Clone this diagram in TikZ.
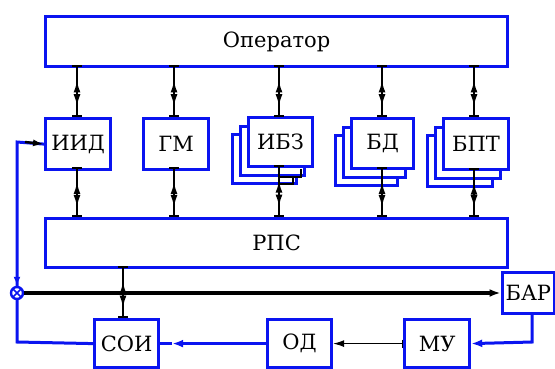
\documentclass[tikz,border=0pt]{standalone}
\usepackage{fontspec}
\setmainfont{DejaVu Serif}
\newfontfamily\tnr{DejaVu Serif}
\usetikzlibrary{arrows.meta,decorations.markings}
\definecolor{bl}{RGB}{10,20,240}
\tikzset{
  blk/.style={draw=bl,line width=3.2pt,fill=white,inner sep=0pt,font=\tnr\fontsize{21}{24}\selectfont},
  biarr/.style={black,line width=2pt,{Bar[width=10pt]}-{Bar[width=10pt]},
    postaction={decorate,decoration={markings,
      mark=at position 0.3 with {\arrowreversed{Latex[length=12pt,width=7pt]}},
      mark=at position 0.8 with {\arrow{Latex[length=12pt,width=7pt]}}}}},
  bline/.style={draw=bl,line width=3pt},
  kline/.style={black,line width=2pt}
}
\newcommand{\mybox}[6]{% name, x1,y1,x2,y2,label
  \node[blk,minimum width=#4pt-#2pt,minimum height=#5pt-#3pt,anchor=north west] (#1) at (#2,#3) {#6};}
\newcommand{\stackbox}[6]{%
  \node[blk,minimum width=#4pt-#2pt,minimum height=#5pt-#3pt,anchor=north west] (#1c) at (#2-16,#3+17) {};
  \node[blk,minimum width=#4pt-#2pt,minimum height=#5pt-#3pt,anchor=north west] (#1b) at (#2-8,#3+8.5) {};
  \node[blk,minimum width=#4pt-#2pt,minimum height=#5pt-#3pt,anchor=north west] (#1) at (#2,#3) {#6};}
\begin{document}
\begin{tikzpicture}[x=1pt,y=-1pt]
\useasboundingbox (0,0) rectangle (555,368);
\mybox{op}{44}{15}{506}{65}{Оператор}
\mybox{iid}{44}{117}{109}{168}{ИИД}
\mybox{gm}{142}{117}{207}{168}{ГМ}
\stackbox{ibz}{247}{116}{311}{165}{ИБЗ}
\stackbox{bd}{350}{117}{412}{167}{БД}
\stackbox{bpt}{442}{117}{507}{168}{БПТ}
\mybox{rps}{44}{217}{506}{266}{РПС}
\mybox{bar}{500.5}{271}{553}{312}{БАР}
\mybox{soi}{93}{318}{157}{366}{СОИ}
\mybox{od}{266}{318}{330}{366}{ОД}
\mybox{mu}{403}{318}{468}{366}{МУ}
% vertical bidirectional connectors
\foreach \n/\x in {iid/77,gm/174,ibz/279,bd/382,bpt/474}{
  \coordinate (t\n) at (\x,65);
  \coordinate (m\n) at (\x,116.5);
  \coordinate (u\n) at (\x,167);
  \coordinate (r\n) at (\x,217);
}
\foreach \n in {iid,gm,ibz,bd,bpt}{
  \draw[biarr] (t\n) -- (m\n);
}
\draw[biarr] (uiid) -- (riid);
\draw[biarr] (ugm) -- (rgm);
\draw[biarr] (279,165) -- (ribz);
\draw[biarr] (382,167) -- (rbd);
\draw[biarr] (474,168) -- (rbpt);
% ИБЗ bracket
\draw[kline] (279,177) -| (301,169);
\draw[kline] (279,183.5) -| (293,177);
% РПС - СОИ
\coordinate (rs) at (123,266);
\coordinate (st) at (123,318);
\draw[biarr] (rs) -- (st);
% summing circle
\node[circle,draw=bl,line width=2.4pt,minimum size=12pt,inner sep=0pt,fill=white,
  path picture={\draw[bl,line width=1.6pt] (path picture bounding box.south west)--(path picture bounding box.north east)
  (path picture bounding box.north west)--(path picture bounding box.south east);}] (sum) at (17,293) {};
% left loop
\coordinate (lc) at (17,142);
\draw[bline] (sum.north) -- (lc) -- (iid.west);
\draw[-{Latex[length=11pt,width=7pt]},black,line width=2.4pt] (25,142) -- (iid.west);
\draw[-{Latex[length=9pt,width=7pt]},bl,line width=2.4pt] (17,255) -- (sum.north);
\coordinate (lb) at (17,342);
\draw[bline] (sum.south) -- (lb) -- (soi.west);
% main horizontal
\draw[black,line width=3.2pt,-{Latex[length=11pt,width=8pt]}] (sum.east) -- (bar.west|-sum.east);
% bottom chain
\coordinate (bb) at (532,342);
\draw[bline,-{Latex[length=11pt,width=8pt]}] (bar.south-|bb) -- (bb) -- (mu.east);
\draw[black,line width=1pt,{Bar[width=8pt]}-{Latex[length=11pt,width=7pt]}] (mu.west) -- (od.east);
\draw[bline,-{Latex[length=11pt,width=8pt]}] (od.west) -- ([xshift=12pt]soi.east);
\draw[bline] ([xshift=12pt]soi.east) -- (soi.east);
\end{tikzpicture}
\end{document}
